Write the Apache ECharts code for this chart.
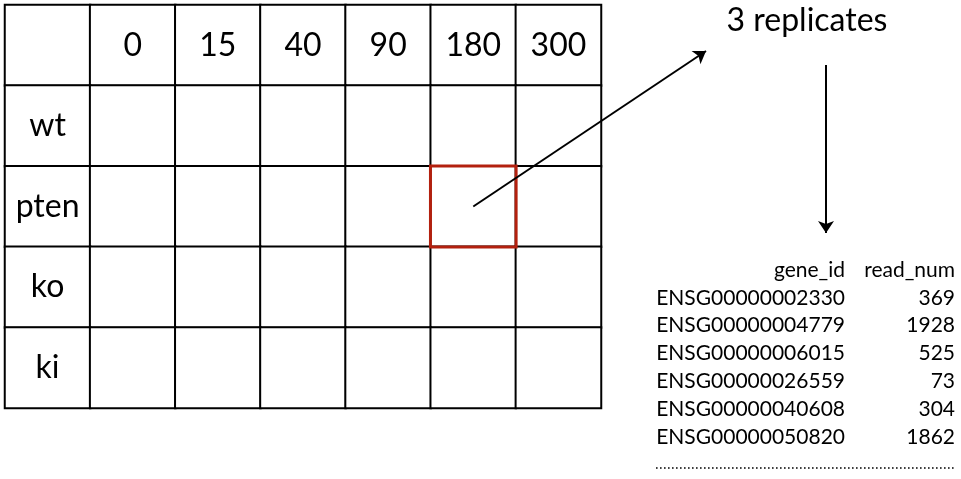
<!DOCTYPE html>
<html>
<head>
<meta charset="utf-8">
<title></title>
<script src="https://cdn.jsdelivr.net/npm/echarts@6/dist/echarts.min.js"></script>
<style>html,body{margin:0;padding:0;background:#fff;}</style>
</head>
<body>
<div id="main" style="width:961px;height:479px;"></div>
<script type="text/javascript">
// experiment layout: time points x genotypes
var timePoints = ['0', '15', '40', '90', '180', '300'];
var genotypes = ['wt', 'pten', 'ko', 'ki'];
var pickedTime = '180';
var pickedGenotype = 'pten';
var replicateNote = '3 replicates';

// sample count table for one cell
var tableHeader = ['gene_id', 'read_num'];
var geneIds = ['ENSG00000002330', 'ENSG00000004779', 'ENSG00000006015',
    'ENSG00000026559', 'ENSG00000040608', 'ENSG00000050820'];
var readNums = [369, 1928, 525, 73, 304, 1862];

var font = 'Lato';
var xCats = [''].concat(timePoints);
var yCats = [''].concat(genotypes);

// every cell of the grid, header row/col carry the labels
var cells = [];
for (var yi = 0; yi < yCats.length; yi++) {
    for (var xi = 0; xi < xCats.length; xi++) {
        var txt = '';
        if (yi === 0) txt = xCats[xi];
        else if (xi === 0) txt = yCats[yi];
        cells.push({ name: txt, value: [xi, yi, 0] });
    }
}
var px = xCats.indexOf(pickedTime);
var py = yCats.indexOf(pickedGenotype);

var myChart = echarts.init(document.getElementById('main'));

var graphics = [{
    type: 'text', x: 807, y: 21,
    style: { text: replicateNote, font: '32px ' + font, fill: '#000', textAlign: 'center', textVerticalAlign: 'middle' }
}];
var tx1 = 845, tx2 = 955, ty0 = 270, step = 27.8;
graphics.push({ type: 'text', x: tx1, y: ty0, style: { text: tableHeader[0], font: '21px ' + font, fill: '#000', textAlign: 'right', textVerticalAlign: 'middle' } });
graphics.push({ type: 'text', x: tx2, y: ty0, style: { text: tableHeader[1], font: '21px ' + font, fill: '#000', textAlign: 'right', textVerticalAlign: 'middle' } });
for (var i = 0; i < geneIds.length; i++) {
    var yy = ty0 + step * (i + 1);
    graphics.push({ type: 'text', x: tx1, y: yy, style: { text: geneIds[i], font: '21px ' + font, fill: '#000', textAlign: 'right', textVerticalAlign: 'middle' } });
    graphics.push({ type: 'text', x: tx2, y: yy, style: { text: String(readNums[i]), font: '21px ' + font, fill: '#000', textAlign: 'right', textVerticalAlign: 'middle' } });
}
// the "......" row under the table
graphics.push({
    type: 'line', shape: { x1: 656, y1: 468, x2: 955, y2: 468 },
    style: { stroke: '#000', lineWidth: 1.6, lineDash: [1.6, 2.4] }
});

myChart.setOption({
    animation: false,
    grid: { left: 5, top: 5, width: 596, height: 403 },
    xAxis: { type: 'category', data: xCats, show: false },
    yAxis: { type: 'category', data: yCats, inverse: true, show: false },
    graphic: graphics,
    series: [
        {
            type: 'heatmap',
            data: cells,
            silent: true,
            itemStyle: { color: '#fff', borderColor: '#000', borderWidth: 2 },
            label: {
                show: true,
                formatter: function (p) { return p.name; },
                fontFamily: font, fontSize: 32, color: '#000'
            },
            emphasis: { disabled: true }
        },
        {
            type: 'heatmap',
            data: [[px, py, 0]],
            silent: true,
            z: 3,
            itemStyle: { color: 'rgba(0,0,0,0)', borderColor: '#b3200e', borderWidth: 3 },
            emphasis: { disabled: true },
            markLine: {
                silent: true,
                symbol: ['none', 'arrow'],
                symbolSize: 12,
                label: { show: false },
                lineStyle: { color: '#000', width: 2, type: 'solid' },
                emphasis: { disabled: true },
                data: [
                    [{ coord: [px, py] }, { x: 706, y: 51 }],
                    [{ x: 826, y: 65 }, { x: 826, y: 233 }]
                ]
            }
        }
    ]
});
</script>
</body>
</html>
